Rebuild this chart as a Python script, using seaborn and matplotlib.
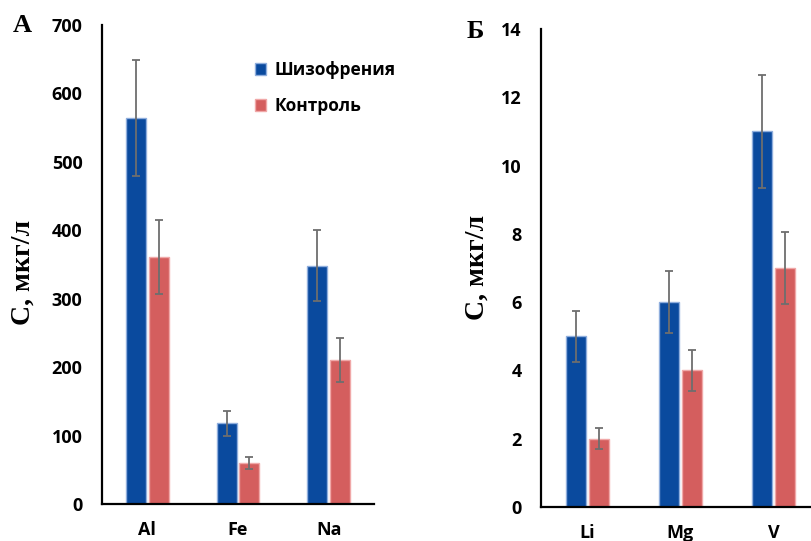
import matplotlib
matplotlib.use("Agg")
import matplotlib.pyplot as plt
import seaborn as sns
import pandas as pd
import numpy as np
from matplotlib.patches import Patch

# ---- data ----
groups = ["Шизофрения", "Контроль"]
elements_a = ["Al", "Fe", "Na"]
schizo_a = [564, 118, 348]
schizo_a_err = [85, 18, 52]
control_a = [361, 60, 210]
control_a_err = [54, 9, 32]

elements_b = ["Li", "Mg", "V"]
schizo_b = [5, 6, 11]
schizo_b_err = [0.75, 0.9, 1.65]
control_b = [2, 4, 7]
control_b_err = [0.3, 0.6, 1.05]

yticks_a = [0, 100, 200, 300, 400, 500, 600, 700]
yticks_b = [0, 2, 4, 6, 8, 10, 12, 14]

colors = ["#0A4A9E", "#D45E5E"]
edge_colors = ["#8FAEDD", "#F0A8A8"]

sans = ["Open Sans", "DejaVu Sans"]
serif = ["Liberation Serif", "DejaVu Serif"]

fig = plt.figure(figsize=(8.12, 5.41), dpi=100)
W, H = 812, 541

def px_axes(left, top, right, bottom):
    return fig.add_axes([left / W, 1 - bottom / H, (right - left) / W, (bottom - top) / H])

ax_a = px_axes(102, 25, 374, 504)
ax_b = px_axes(541, 29, 820, 507)

def panel(ax, cats, s, s_err, c, c_err, yticks):
    df = pd.DataFrame({
        "element": cats * 2,
        "group": [groups[0]] * len(cats) + [groups[1]] * len(cats),
        "value": list(s) + list(c),
    })
    sns.barplot(data=df, x="element", y="value", hue="group", order=cats,
                hue_order=groups, palette=colors, width=0.506, gap=0.13,
                errorbar=None, ax=ax, legend=False, saturation=1)
    errs = list(s_err) + list(c_err)
    vals = list(s) + list(c)
    patches = [p for p in ax.patches]
    for i, p in enumerate(patches[:len(vals)]):
        gi = i // len(cats)
        p.set_edgecolor(edge_colors[gi])
        p.set_linewidth(1.0)
        xc = p.get_x() + p.get_width() / 2
        ax.errorbar(xc, vals[i], yerr=errs[i], color="#6E6E6E", lw=1.3,
                    capsize=3, capthick=1.3, zorder=5)
    ax.set_xlim(-0.5, 2.5)
    ax.set_ylim(yticks[0], yticks[-1])
    ax.set_yticks(yticks)
    ax.set_xlabel("")
    ax.set_ylabel("")
    for sp in ["top", "right"]:
        ax.spines[sp].set_visible(False)
    for sp in ["left", "bottom"]:
        ax.spines[sp].set_linewidth(1.6)
        ax.spines[sp].set_color("black")
    ax.tick_params(axis="y", length=0, pad=14)
    ax.tick_params(axis="x", length=0, pad=12)
    for lab in ax.get_xticklabels() + ax.get_yticklabels():
        lab.set_fontfamily(sans)
        lab.set_fontweight("bold")
        lab.set_fontsize(13)
        lab.set_color("black")
    ax.set_facecolor("white")

panel(ax_a, elements_a, schizo_a, schizo_a_err, control_a, control_a_err, yticks_a)
panel(ax_b, elements_b, schizo_b, schizo_b_err, control_b, control_b_err, yticks_b)

# legend
handles = [Patch(facecolor=colors[i], edgecolor=edge_colors[i], lw=1.0) for i in range(2)]
leg = fig.legend(handles, groups, loc="upper left", bbox_to_anchor=(255 / W, 1 - 61 / H),
                 frameon=False, handlelength=0.65, handleheight=0.65, handletextpad=0.5,
                 labelspacing=1.05, borderpad=0, borderaxespad=0,
                 prop={"family": sans, "weight": "bold", "size": 12.5})

# y labels
ylab = "С, мкг/л"
fig.text(23.5 / W, 1 - 272 / H, ylab, rotation=90, ha="center", va="center",
         fontfamily=serif, fontweight="bold", fontsize=20)
fig.text(477.5 / W, 1 - 267 / H, ylab, rotation=90, ha="center", va="center",
         fontfamily=serif, fontweight="bold", fontsize=20)

# panel letters
fig.text(22.5 / W, 1 - 25 / H, "А", ha="center", va="center",
         fontfamily=serif, fontweight="bold", fontsize=19)
fig.text(475 / W, 1 - 31 / H, "Б", ha="center", va="center",
         fontfamily=serif, fontweight="bold", fontsize=19)

fig.savefig("out.png", dpi=100, facecolor="white")
